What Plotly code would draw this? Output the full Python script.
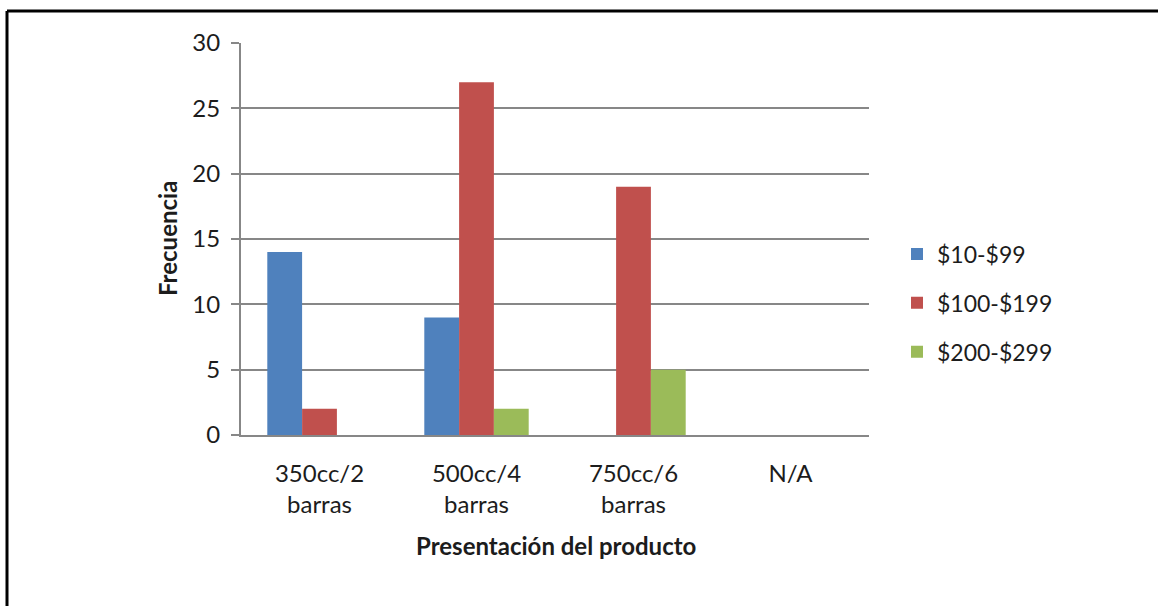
import plotly.graph_objects as go

# Product presentations and frequency per price range
categories = ["350cc/2<br>barras", "500cc/4<br>barras", "750cc/6<br>barras", "N/A"]
series_names = ["$10-$99", "$100-$199", "$200-$299"]
freq_10_99 = [14, 9, 0, 0]
freq_100_199 = [2, 27, 19, 0]
freq_200_299 = [0, 2, 5, 0]
y_ticks = [0, 5, 10, 15, 20, 25, 30]

colors = ["#4F81BD", "#C0504D", "#9BBB59"]
FONT = "Lato"
TXT = "#1c1c1c"
GRID = "#878787"

W, H = 1158, 606
L, R, T, B = 241, 1158 - 869, 43, 606 - 435
pw, ph = W - L - R, H - T - B

def px_x(x):
    return (x - L) / pw

def px_y(y):
    return (H - B - y) / ph

fig = go.Figure()
for i, (name, vals) in enumerate(zip(series_names, [freq_10_99, freq_100_199, freq_200_299])):
    fig.add_trace(go.Bar(
        x=categories, y=vals, name=name,
        marker=dict(color=colors[i], line=dict(width=0)),
        legendgroup=name,
    ))

fig.update_layout(
    width=W, height=H,
    margin=dict(l=L, r=R, t=T, b=B),
    paper_bgcolor="white", plot_bgcolor="white",
    barmode="group", bargap=0.335, bargroupgap=0,
    font=dict(family=FONT, size=24, color=TXT),
    legend=dict(
        x=px_x(897), y=px_y(303), xanchor="left", yanchor="middle",
        font=dict(family=FONT, size=23, color=TXT),
        tracegroupgap=16, traceorder="grouped",
        itemwidth=30,
    ),
    showlegend=True,
)

fig.update_yaxes(
    range=[0, 30], tickvals=y_ticks,
    showgrid=True, gridcolor=GRID, gridwidth=2,
    showline=True, linecolor=GRID, linewidth=2,
    ticks="outside", ticklen=8, tickcolor=GRID, tickwidth=2,
    ticklabelstandoff=6,
    zeroline=False,
    tickfont=dict(family=FONT, size=24, color=TXT),
)
fig.update_xaxes(
    showline=True, linecolor=GRID, linewidth=2,
    ticks="", ticklabelstandoff=16,
    tickfont=dict(family=FONT, size=24, color=TXT),
)

# axis titles
fig.add_annotation(
    text="<b>Presentación del producto</b>", xref="paper", yref="paper",
    x=px_x(556), y=px_y(545), xanchor="center", yanchor="middle", showarrow=False,
    font=dict(family=FONT, size=24, color=TXT),
)
fig.add_annotation(
    text="<b>Frecuencia</b>", xref="paper", yref="paper",
    x=px_x(167), y=px_y(239), xanchor="center", yanchor="middle",
    showarrow=False, textangle=-90,
    font=dict(family=FONT, size=24, color=TXT),
)

# outer frame (top and left edges)
fig.add_shape(type="line", xref="paper", yref="paper",
              x0=px_x(7), x1=px_x(1170), y0=px_y(11), y1=px_y(11),
              line=dict(color="black", width=3))
fig.add_shape(type="line", xref="paper", yref="paper",
              x0=px_x(7), x1=px_x(7), y0=px_y(11), y1=px_y(620),
              line=dict(color="black", width=3))

fig.write_html("out.html")
